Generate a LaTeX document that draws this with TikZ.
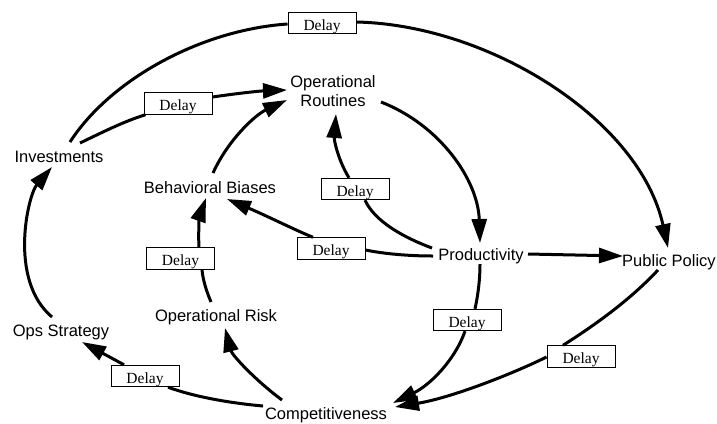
\documentclass[tikz,border=0pt]{standalone}
\usepackage{fontspec}
\setmainfont{Liberation Serif}
\newfontfamily\labfont{Liberation Sans}
\usetikzlibrary{arrows.meta,calc}
\begin{document}
\begin{tikzpicture}[x=1bp,y=-1bp,
  lab/.style={font=\labfont\fontsize{16.5bp}{19bp}\selectfont, inner sep=0pt},
  delaybox/.style={draw, line width=0.9bp, fill=white, minimum width=68bp, minimum height=21.5bp,
    inner sep=0pt, text height=14bp, text depth=0pt, font=\fontsize{15.5bp}{18bp}\selectfont},
  link/.style={line width=3bp},
  arr/.style={link, -{Triangle[length=24bp,width=15bp]}}]
\useasboundingbox (0,0) rectangle (717,423);

% variables
\node[lab, anchor=base] (inv) at (59,162) {Investments};
\node[lab, align=center] (rout) at (333,91.5) {Operational\\Routines};
\node[lab, anchor=base] (beh) at (210,193) {Behavioral Biases};
\node[lab, anchor=base] (prod) at (481,260) {Productivity};
\node[lab, anchor=base] (pub) at (669,266) {Public Policy};
\node[lab, anchor=base] (orisk) at (216,321) {Operational Risk};
\node[lab, anchor=base] (ops) at (61,336) {Ops Strategy};
\node[lab, anchor=base] (comp) at (326,419) {Competitiveness};

% delay boxes
\node[delaybox] (d1) at (322,23) {Delay};
\node[delaybox] (d2) at (178,103.5) {Delay};
\node[delaybox] (d5) at (355,189) {Delay};
\node[delaybox] (d6) at (331,248.5) {Delay};
\node[delaybox] (d7) at (180.5,258.5) {Delay};
\node[delaybox] (d9) at (145,376) {Delay};
\node[delaybox] (d12) at (467,320) {Delay};
\node[delaybox] (d13) at (581,356.5) {Delay};

% Investments -> Public Policy
\draw[link] ($(inv.base)+(11,-20)$) .. controls (110,80) and (200,30) .. ($(d1.west)+(0,1)$);
\draw[arr] ($(d1.east)+(0,-1)$) .. controls (490,25) and (640,120) .. ($(pub.base)+(-1,-18)$);

% Investments -> Operational Routines
\draw[link] ($(inv.base)+(21,-19)$) .. controls (105,131) and (125,121) .. ($(d2.south west)+(2,0)$);
\draw[arr] ($(d2.east)+(0,-6.5)$) .. controls (240,93) and (260,91) .. ($(rout.center)+(-46,-1.5)$);

% Behavioral Biases -> Operational Routines
\draw[arr] ($(beh.base)+(3,-20)$) .. controls (228,140) and (255,115) .. ($(rout.center)+(-46,8.5)$);

% Operational Routines -> Productivity
\draw[arr] ($(rout.center)+(48,10.5)$) .. controls (440,125) and (478,180) .. ($(prod.base)+(-1,-17)$);

% Productivity -> Operational Routines
\draw[link] ($(prod.base)+(-49,-12)$) .. controls (405,238) and (375,222) .. ($(d5.south)+(10,0)$);
\draw[arr] ($(d5.north)+(-6,0)$) .. controls (338,160) and (334,140) .. ($(rout.center)+(3,22.5)$);

% Productivity -> Behavioral Biases
\draw[link] ($(prod.base)+(-48,-4)$) .. controls (410,256) and (385,254) .. ($(d6.east)+(0,1.5)$);
\draw[arr] ($(d6.north)+(-18,0)$) .. controls (295,230) and (265,215) .. ($(beh.base)+(17,6)$);

% Operational Risk -> Behavioral Biases
\draw[link] ($(orisk.base)+(-5,-19)$) .. controls (206,290) and (203,280) .. ($(d7.south)+(21.5,0)$);
\draw[arr] ($(d7.north)+(18.5,0)$) .. controls (198,230) and (200,215) .. ($(beh.base)+(-4,5)$);

% Competitiveness -> Operational Risk
\draw[arr] ($(comp.base)+(-44,-19)$) .. controls (255,380) and (232,355) .. ($(orisk.base)+(9,7)$);

% Competitiveness -> Ops Strategy
\draw[link] ($(comp.base)+(-63,-13)$) .. controls (230,403) and (195,397) .. ($(d9.south)+(23,0)$);
\draw[arr] ($(d9.north)+(-21,0)$) -- ($(ops.base)+(21,6)$);

% Ops Strategy -> Investments
\draw[arr] ($(ops.base)+(-9,-19)$) .. controls (8,280) and (28,195) .. ($(inv.base)+(-7,5)$);

% Productivity -> Public Policy
\draw[arr] ($(prod.base)+(47,-6)$) -- ($(pub.base)+(-46,-10)$);

% Productivity -> Competitiveness
\draw[link] ($(prod.base)+(-1,4)$) .. controls (480,280) and (478,295) .. ($(d12.north)+(8,0)$);
\draw[arr] ($(d12.south)+(-2,0)$) .. controls (455,360) and (430,385) .. ($(comp.base)+(67,-16)$);

% Public Policy -> Competitiveness
\draw[link] ($(pub.base)+(-11,4)$) .. controls (630,300) and (595,325) .. ($(d13.north)+(-18,0)$);
\draw[arr] ($(d13.west)+(0,0.5)$) .. controls (510,375) and (450,398) .. ($(comp.base)+(69,-12)$);
\end{tikzpicture}
\end{document}
